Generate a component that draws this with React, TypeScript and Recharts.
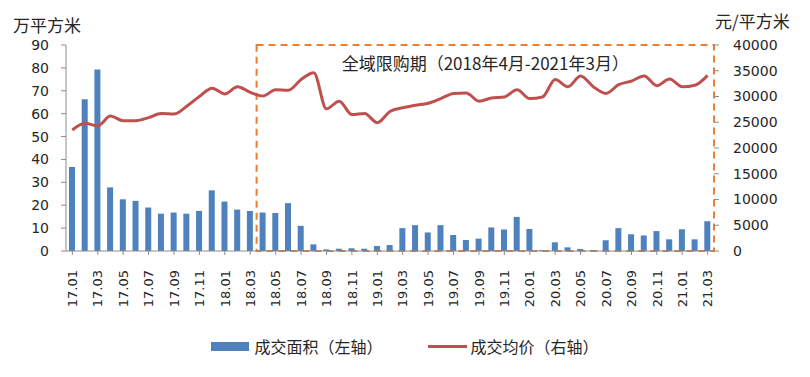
import React from 'react';
import { ComposedChart, Bar, Line, XAxis, YAxis, ReferenceArea, Legend } from 'recharts';

const months = [
  '17.01', '17.02', '17.03', '17.04', '17.05', '17.06', '17.07', '17.08', '17.09', '17.10', '17.11', '17.12',
  '18.01', '18.02', '18.03', '18.04', '18.05', '18.06', '18.07', '18.08', '18.09', '18.10', '18.11', '18.12',
  '19.01', '19.02', '19.03', '19.04', '19.05', '19.06', '19.07', '19.08', '19.09', '19.10', '19.11', '19.12',
  '20.01', '20.02', '20.03', '20.04', '20.05', '20.06', '20.07', '20.08', '20.09', '20.10', '20.11', '20.12',
  '21.01', '21.02', '21.03',
];

// 成交面积（万平方米）
const areaValues = [
  36.7, 66.3, 79.3, 27.8, 22.6, 21.9, 19.0, 16.3, 16.8, 16.3, 17.5, 26.5,
  21.6, 18.1, 17.5, 16.8, 16.6, 20.9, 11.0, 2.9, 0.7, 1.0, 1.2, 1.0,
  2.2, 2.6, 10.0, 11.3, 8.1, 11.3, 7.0, 4.8, 5.4, 10.3, 9.4, 14.9,
  9.6, 0.4, 3.8, 1.6, 0.9, 0.4, 4.7, 10.0, 7.3, 6.8, 8.7, 5.1,
  9.5, 5.1, 13.0,
];

// 成交均价（元/平方米）
const priceValues = [
  23500, 24800, 24300, 26200, 25300, 25300, 25900, 26700, 26600, 28100, 30000, 31600,
  30500, 31900, 30800, 30100, 31300, 31200, 33300, 34600, 27600, 29100, 26500, 26700,
  24900, 27100, 27800, 28300, 28700, 29600, 30600, 30700, 29100, 29700, 29900, 31300,
  29600, 29900, 33300, 31900, 34000, 31900, 30600, 32300, 33000, 34000, 32100, 33400,
  31900, 32200, 34100,
];

const leftTicks = [0, 10, 20, 30, 40, 50, 60, 70, 80, 90];
const rightTicks = [0, 5000, 10000, 15000, 20000, 25000, 30000, 35000, 40000];

const periodStart = '18.04';
const periodEnd = '21.03';
const periodLabel = '全域限购期（2018年4月-2021年3月）';
const leftUnit = '万平方米';
const rightUnit = '元/平方米';
const areaName = '成交面积（左轴）';
const priceName = '成交均价（右轴）';

const data = months.map((m, i) => ({ month: m, area: areaValues[i], price: priceValues[i] }));

const BLUE = '#4F81BD';
const RED = '#C0504D';
const ORANGE = '#ED7D31';
const TEXT = '#262626';
const AXIS = '#8C8C8C';
const NUM_FONT = '"DejaVu Sans", sans-serif';
const CJK_FONT = '"Noto Sans CJK SC", sans-serif';

const XTick = (props: any) => {
  const { x, y, payload } = props;
  return (
    <g transform={`translate(${x},${y})`}>
      <text
        transform="rotate(-90)"
        textAnchor="end"
        dy="0.36em"
        fontSize={13}
        fontFamily={NUM_FONT}
        fill={TEXT}
      >
        {payload.value}
      </text>
    </g>
  );
};

const LegendContent = () => (
  <div
    style={{
      height: 46,
      boxSizing: 'border-box',
      paddingTop: 13,
      display: 'flex',
      justifyContent: 'center',
      alignItems: 'flex-start',
      fontFamily: CJK_FONT,
      fontSize: 16,
      color: TEXT,
      lineHeight: '20px',
    }}
  >
    <div style={{ display: 'flex', alignItems: 'center' }}>
      <span style={{ display: 'inline-block', width: 38, height: 9, background: BLUE, marginRight: 5 }} />
      <span>{areaName}</span>
    </div>
    <div style={{ display: 'flex', alignItems: 'center', marginLeft: 45 }}>
      <span style={{ display: 'inline-block', width: 39, height: 3, background: RED, marginRight: 4 }} />
      <span>{priceName}</span>
    </div>
  </div>
);

export default function App() {
  return (
    <div style={{ position: 'absolute', left: 0, top: 0, width: 810, height: 377, background: '#fff' }}>
      <ComposedChart
        width={810}
        height={377}
        data={data}
        margin={{ top: 45, right: 0, bottom: 8, left: 0 }}
        barSize={6}
      >
        <XAxis
          dataKey="month"
          interval={1}
          height={72}
          tick={<XTick />}
          tickSize={4}
          tickMargin={15}
          axisLine={{ stroke: AXIS }}
          tickLine={{ stroke: AXIS }}
        />
        <YAxis
          yAxisId="left"
          domain={[0, 90]}
          ticks={leftTicks}
          width={66}
          tickSize={5}
          tickMargin={12}
          axisLine={{ stroke: AXIS }}
          tickLine={{ stroke: AXIS }}
          tick={{ fontSize: 14, fontFamily: NUM_FONT, fill: TEXT }}
        />
        <YAxis
          yAxisId="right"
          orientation="right"
          domain={[0, 40000]}
          ticks={rightTicks}
          width={96}
          tickSize={5}
          tickMargin={14}
          axisLine={false}
          tickLine={{ stroke: AXIS }}
          tick={{ fontSize: 14, fontFamily: NUM_FONT, fill: TEXT, textAnchor: 'start' }}
        />
        <Bar yAxisId="left" dataKey="area" name={areaName} fill={BLUE} isAnimationActive={false} />
        <ReferenceArea
          yAxisId="left"
          x1={periodStart}
          x2={periodEnd}
          y1={0}
          y2={90}
          fill="none"
          fillOpacity={0}
          stroke={ORANGE}
          strokeWidth={2}
          strokeDasharray="7 5"
          label={{
            value: periodLabel,
            position: 'insideTop',
            offset: 13,
            fontSize: 17,
            fontFamily: CJK_FONT,
            fill: TEXT,
          }}
        />
        <Line
          yAxisId="right"
          type="monotone"
          dataKey="price"
          name={priceName}
          stroke={RED}
          strokeWidth={3}
          dot={false}
          activeDot={false}
          isAnimationActive={false}
        />
        <Legend verticalAlign="bottom" content={<LegendContent />} />
      </ComposedChart>
      <div
        style={{
          position: 'absolute',
          left: 13,
          top: 14,
          fontFamily: CJK_FONT,
          fontSize: 17,
          color: TEXT,
          lineHeight: '22px',
          whiteSpace: 'nowrap',
        }}
      >
        {leftUnit}
      </div>
      <div
        style={{
          position: 'absolute',
          left: 715,
          top: 10,
          fontFamily: CJK_FONT,
          fontSize: 17,
          color: TEXT,
          lineHeight: '22px',
          whiteSpace: 'nowrap',
        }}
      >
        {rightUnit}
      </div>
    </div>
  );
}
